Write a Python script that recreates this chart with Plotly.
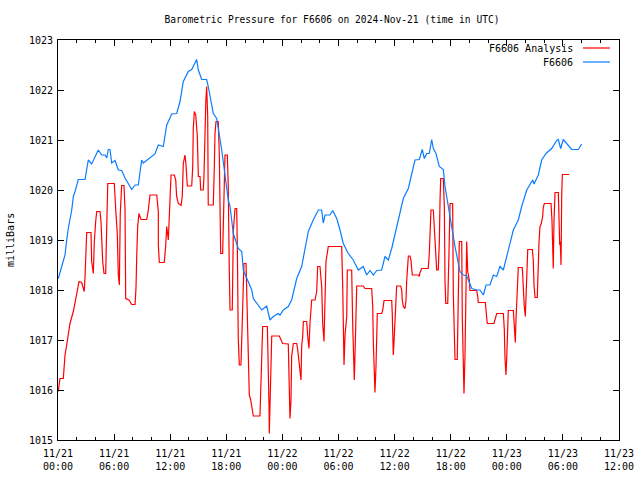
import pandas as pd
import plotly.graph_objects as go

# Observations (hours since 2024-11-21 00:00 UTC, pressure mb)
obs_hours = [0.03, 0.40, 0.57, 0.75, 0.93, 1.10, 1.47, 1.64, 1.82, 2.17, 2.89, 3.24, 3.60, 4.31, 4.67, 5.03, 5.21, 5.38, 5.56, 5.74,
             6.10, 6.45, 6.81, 7.17, 7.88, 8.24, 8.59, 8.95, 9.12, 9.84, 10.37, 10.73, 11.26, 11.63, 11.98, 12.16, 12.70, 13.05, 13.40, 13.94,
             14.30, 14.83, 15.01, 15.37, 15.90, 16.07, 16.61, 16.97, 17.51, 18.21, 18.40, 18.75, 19.28, 19.65, 19.82, 20.35, 20.72, 20.89, 21.42, 21.79,
             22.32, 22.49, 22.67, 23.03, 23.56, 23.74, 24.10, 24.63, 24.99, 25.53, 26.06, 26.60, 26.77, 27.30, 27.84, 28.20, 28.37, 28.56, 29.09, 29.38,
             29.81, 30.16, 30.51, 31.05, 31.58, 31.76, 32.12, 32.65, 33.02, 33.37, 33.72, 34.09, 34.62, 34.97, 35.33, 35.69, 36.04, 36.58, 36.93, 37.47,
             37.83, 38.18, 38.64, 38.96, 39.18, 39.43, 39.71, 39.97, 40.14, 40.43, 40.78, 41.21, 41.39, 41.74, 42.11, 42.46, 42.99, 43.35, 43.71, 44.25,
             44.78, 45.13, 45.49, 45.78, 46.20, 46.56, 46.92, 47.27, 47.63, 47.99, 48.70, 49.23, 49.59, 50.13, 50.77, 50.91, 51.37, 51.73, 52.19, 52.80,
             53.34, 53.51, 53.76, 54.04, 54.41, 54.94, 55.65, 56.01]
obs_mb = [1018.23, 1018.47, 1018.57, 1018.70, 1019.00, 1019.23, 1019.60, 1019.87, 1019.97, 1020.21, 1020.21, 1020.60, 1020.52, 1020.80, 1020.70, 1020.70, 1020.64, 1020.81, 1020.81, 1020.54,
          1020.59, 1020.40, 1020.39, 1020.24, 1020.01, 1020.10, 1020.10, 1020.60, 1020.54, 1020.64, 1020.72, 1020.90, 1020.87, 1021.30, 1021.43, 1021.52, 1021.53, 1021.77, 1022.17, 1022.37,
          1022.41, 1022.61, 1022.40, 1022.21, 1022.21, 1022.07, 1021.53, 1021.43, 1020.80, 1019.80, 1019.67, 1019.13, 1018.83, 1018.77, 1018.40, 1018.17, 1018.00, 1017.83, 1017.70, 1017.60,
          1017.68, 1017.57, 1017.40, 1017.47, 1017.53, 1017.50, 1017.60, 1017.67, 1017.80, 1018.23, 1018.47, 1019.00, 1019.17, 1019.40, 1019.60, 1019.60, 1019.34, 1019.50, 1019.50, 1019.59,
          1019.43, 1019.20, 1018.93, 1018.73, 1018.60, 1018.53, 1018.40, 1018.47, 1018.30, 1018.39, 1018.30, 1018.39, 1018.40, 1018.67, 1018.60, 1018.83, 1019.13, 1019.57, 1019.83, 1020.03,
          1020.30, 1020.60, 1020.61, 1020.81, 1020.63, 1020.73, 1020.73, 1021.01, 1020.83, 1020.73, 1020.47, 1020.41, 1020.07, 1019.67, 1019.33, 1018.87, 1018.37, 1018.30, 1018.28, 1018.03,
          1018.00, 1018.00, 1017.90, 1018.10, 1018.10, 1018.30, 1018.27, 1018.47, 1018.40, 1018.67, 1019.20, 1019.40, 1019.67, 1020.00, 1020.20, 1020.12, 1020.30, 1020.60, 1020.73, 1020.83,
          1020.99, 1021.01, 1020.83, 1021.01, 1020.93, 1020.81, 1020.81, 1020.92]

# Analysis
ana_hours = [0.03, 0.21, 0.57, 0.75, 0.93, 1.10, 1.28, 1.64, 2.00, 2.25, 2.53, 2.71, 2.81, 2.89, 2.99, 3.07, 3.53, 3.60, 3.78, 3.88,
             4.03, 4.14, 4.49, 4.60, 4.78, 4.92, 5.10, 5.21, 5.32, 6.02, 6.10, 6.20, 6.34, 6.38, 6.45, 6.56, 6.66, 6.81, 7.06, 7.17,
             7.24, 7.59, 7.88, 8.24, 8.34, 8.42, 8.52, 8.66, 8.88, 9.49, 9.66, 9.84, 10.56, 10.73, 10.73, 10.84, 11.37, 11.52, 11.63, 11.80,
             11.90, 11.98, 12.09, 12.44, 12.59, 12.69, 12.87, 13.16, 13.29, 13.40, 13.58, 13.69, 13.83, 14.30, 14.41, 14.47, 14.58, 14.73, 14.90, 15.01,
             15.19, 15.26, 15.54, 15.61, 15.72, 15.80, 15.90, 16.01, 16.07, 16.61, 16.72, 16.79, 16.90, 17.14, 17.25, 17.33, 17.40, 17.61, 17.75, 17.86,
             18.11, 18.21, 18.32, 18.40, 18.64, 18.68, 18.75, 18.93, 19.11, 19.18, 19.28, 19.39, 19.57, 19.65, 19.75, 19.89, 20.11, 20.18, 20.35, 20.46,
             20.61, 20.72, 20.82, 20.89, 21.60, 21.68, 21.79, 21.89, 22.39, 22.49, 22.57, 22.60, 22.67, 22.78, 22.86, 23.67, 24.03, 24.63, 24.74, 24.81,
             24.92, 24.99, 25.17, 25.53, 25.64, 25.78, 25.88, 25.99, 26.06, 26.17, 26.24, 26.60, 26.71, 26.84, 26.95, 27.13, 27.49, 27.67, 27.77, 28.02,
             28.20, 28.31, 28.45, 28.56, 28.66, 28.91, 30.34, 30.45, 30.51, 30.59, 30.70, 30.88, 30.94, 31.41, 31.52, 31.58, 31.69, 31.76, 31.87, 31.95,
             32.65, 32.83, 33.55, 33.66, 33.72, 33.83, 33.90, 34.01, 34.09, 34.15, 34.62, 34.73, 34.87, 35.69, 35.75, 35.79, 35.86, 35.94, 36.04, 36.15,
             36.22, 36.65, 36.76, 36.82, 36.93, 37.11, 37.22, 37.29, 37.47, 37.65, 37.75, 37.89, 38.53, 38.64, 38.72, 38.90, 39.60, 39.71, 39.79, 39.89,
             40.14, 40.25, 40.43, 40.50, 40.67, 40.78, 40.86, 40.93, 41.21, 41.32, 41.39, 41.47, 41.68, 41.74, 41.82, 41.93, 42.21, 42.28, 42.35, 42.46,
             42.70, 42.78, 42.86, 42.92, 43.18, 43.24, 43.35, 43.42, 43.53, 43.61, 43.71, 43.82, 43.99, 44.06, 44.78, 44.89, 44.95, 45.70, 45.78, 45.85,
             45.91, 46.63, 46.74, 46.92, 47.63, 47.73, 47.81, 47.91, 47.99, 48.10, 48.16, 48.70, 48.77, 48.85, 48.91, 48.98, 49.06, 49.17, 49.23, 49.66,
             49.76, 49.87, 49.98, 50.05, 50.13, 50.24, 50.73, 50.83, 50.91, 51.02, 51.26, 51.34, 51.44, 51.55, 51.69, 51.84, 51.90, 52.01, 52.73, 52.83,
             52.91, 52.97, 53.05, 53.16, 53.51, 53.58, 53.66, 53.72, 53.80, 53.87, 53.94, 54.69]
ana_mb = [1015.97, 1016.23, 1016.23, 1016.70, 1016.90, 1017.07, 1017.33, 1017.57, 1017.90, 1018.17, 1018.15, 1018.03, 1017.97, 1018.27, 1018.87, 1019.15, 1019.15, 1018.57, 1018.33, 1018.95,
          1019.37, 1019.57, 1019.57, 1019.37, 1018.57, 1018.33, 1018.33, 1019.70, 1020.13, 1020.13, 1019.93, 1019.53, 1019.13, 1018.70, 1018.30, 1018.10, 1019.53, 1020.09, 1020.09, 1019.60,
          1017.83, 1017.80, 1017.71, 1017.71, 1018.03, 1018.67, 1019.27, 1019.53, 1019.41, 1019.41, 1019.60, 1019.90, 1019.90, 1019.57, 1018.90, 1018.55, 1018.55, 1018.90, 1019.27, 1019.00,
          1019.47, 1019.70, 1020.30, 1020.30, 1020.20, 1019.87, 1019.73, 1019.69, 1019.87, 1020.53, 1020.70, 1020.50, 1020.08, 1020.08, 1020.47, 1021.23, 1021.57, 1021.50, 1021.07, 1020.27,
          1020.27, 1020.00, 1020.00, 1020.27, 1021.47, 1021.73, 1022.07, 1021.47, 1019.70, 1019.70, 1020.47, 1021.13, 1021.37, 1021.37, 1020.73, 1019.40, 1018.73, 1018.73, 1019.73, 1020.70,
          1020.70, 1020.07, 1018.40, 1017.60, 1017.60, 1018.10, 1019.17, 1019.63, 1019.63, 1018.87, 1017.03, 1016.50, 1016.50, 1017.00, 1017.77, 1018.53, 1018.53, 1017.93, 1016.57, 1015.90,
          1015.80, 1015.67, 1015.53, 1015.48, 1015.48, 1015.93, 1016.80, 1017.27, 1017.27, 1016.60, 1015.67, 1015.13, 1015.67, 1017.07, 1017.08, 1017.08, 1016.93, 1016.92, 1015.80, 1015.43,
          1015.80, 1016.67, 1016.93, 1016.93, 1016.80, 1016.53, 1016.33, 1016.20, 1016.87, 1017.07, 1017.37, 1017.37, 1017.07, 1016.83, 1017.33, 1017.80, 1017.80, 1017.97, 1018.47, 1018.47,
          1018.07, 1017.33, 1016.97, 1018.07, 1018.57, 1018.87, 1018.87, 1018.07, 1017.10, 1016.50, 1017.10, 1017.47, 1018.40, 1018.40, 1017.30, 1016.57, 1016.20, 1016.67, 1017.60, 1018.08,
          1018.08, 1018.03, 1018.03, 1017.67, 1017.00, 1016.33, 1015.95, 1016.47, 1017.00, 1017.53, 1017.53, 1017.60, 1017.79, 1017.79, 1017.53, 1017.00, 1016.70, 1016.97, 1017.40, 1017.83,
          1018.08, 1018.08, 1018.00, 1017.80, 1017.67, 1017.63, 1017.80, 1018.17, 1018.68, 1018.68, 1018.60, 1018.30, 1018.30, 1018.27, 1018.35, 1018.43, 1018.43, 1018.73, 1019.30, 1019.60,
          1019.60, 1019.13, 1018.60, 1018.40, 1018.40, 1018.93, 1019.80, 1020.23, 1020.23, 1019.67, 1018.20, 1017.73, 1017.73, 1018.53, 1018.77, 1019.73, 1019.73, 1017.93, 1017.40, 1016.61,
          1016.61, 1017.20, 1018.37, 1018.97, 1018.97, 1017.47, 1016.47, 1015.93, 1016.70, 1018.20, 1018.97, 1018.37, 1018.20, 1017.99, 1017.99, 1017.87, 1017.75, 1017.75, 1017.63, 1017.43,
          1017.33, 1017.33, 1017.41, 1017.53, 1017.53, 1017.23, 1016.63, 1016.30, 1016.63, 1017.13, 1017.59, 1017.59, 1017.40, 1017.13, 1016.95, 1017.40, 1017.70, 1018.20, 1018.45, 1018.45,
          1018.00, 1017.67, 1017.47, 1017.80, 1018.47, 1018.81, 1018.81, 1018.60, 1018.10, 1017.85, 1017.85, 1018.40, 1018.93, 1019.27, 1019.33, 1019.48, 1019.65, 1019.73, 1019.73, 1019.40,
          1018.77, 1018.43, 1019.40, 1019.95, 1019.95, 1019.40, 1018.90, 1018.97, 1018.50, 1019.87, 1020.31, 1020.31]

title_text = "Barometric Pressure for F6606 on 2024-Nov-21 (time in UTC)"
y_title = "milliBars"
legend_names = ["F6606 Analysis", "F6606"]
colors = ["#ff0000", "#0a7dff"]

base = pd.Timestamp("2024-11-21 00:00")
obs_t = base + pd.to_timedelta(obs_hours, unit="h")
ana_t = base + pd.to_timedelta(ana_hours, unit="h")

FONT = "DejaVu Sans Mono"

fig = go.Figure()
fig.add_trace(go.Scatter(x=ana_t, y=ana_mb, mode="lines", name=legend_names[0],
                         line=dict(color=colors[0], width=1.2)))
fig.add_trace(go.Scatter(x=obs_t, y=obs_mb, mode="lines", name=legend_names[1],
                         line=dict(color=colors[1], width=1.2)))

axis_common = dict(showline=True, linecolor="black", linewidth=1, mirror="ticks",
                   ticks="inside", tickcolor="black", showgrid=False, zeroline=False,
                   automargin=False,
                   tickfont=dict(family=FONT, size=10, color="black"))

fig.update_xaxes(type="date", range=["2024-11-21 00:00", "2024-11-23 12:00"],
                 dtick=6 * 3600 * 1000, tick0="2024-11-21 00:00",
                 tickformat="%m/%d<br>%H:%M", ticklen=6, ticklabelstandoff=4,
                 minor=dict(dtick=2 * 3600 * 1000, ticks="inside", ticklen=3, tickcolor="black"),
                 **axis_common)
fig.update_yaxes(range=[1015, 1023], dtick=1, ticklen=6, ticklabelstandoff=2,
                 **axis_common)

# y-axis title (gnuplot places it near the left edge)
fig.add_annotation(xref="paper", yref="paper", x=(10 - 58) / 561, y=0.5, text=y_title,
                   textangle=-90, showarrow=False, xanchor="center", yanchor="middle",
                   font=dict(family=FONT, size=10, color="black"))

# gnuplot-style legend: text right-aligned, then sample line
leg_y = [48, 62]
for i in range(2):
    yp = 1 - (leg_y[i] - 40) / 400
    fig.add_annotation(xref="paper", yref="paper", x=(575 - 58) / 561, y=yp,
                       text=legend_names[i], showarrow=False, xanchor="right", yanchor="middle",
                       font=dict(family=FONT, size=10, color="black"))
    fig.add_shape(type="line", xref="paper", yref="paper", x0=(583 - 58) / 561, x1=(610 - 58) / 561,
                  y0=yp, y1=yp, line=dict(color=colors[i], width=1.2))

fig.update_layout(
    width=640, height=480,
    margin=dict(l=58, r=21, t=40, b=40, autoexpand=False),
    paper_bgcolor="white", plot_bgcolor="white",
    showlegend=False,
    title=dict(text=title_text, x=332 / 640, xanchor="center", xref="container",
               y=1 - 20 / 480, yanchor="middle", yref="container",
               font=dict(family=FONT, size=9.6, color="black")),
)

fig.write_html("out.html", config={"displayModeBar": False},
               post_script="document.body.style.margin='0';")
